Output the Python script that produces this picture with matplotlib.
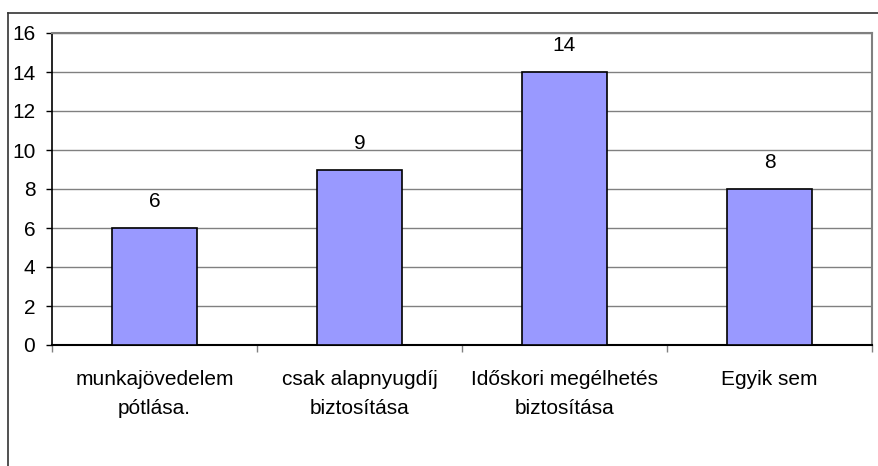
import matplotlib
matplotlib.use("Agg")
import matplotlib.pyplot as plt
from matplotlib.lines import Line2D
import numpy as np

plt.rcParams['font.family'] = ['Liberation Sans', 'DejaVu Sans']

categories = ["munkajövedelem\npótlása.", "csak alapnyugdíj\nbiztosítása",
              "Időskori megélhetés\nbiztosítása", "Egyik sem"]
values = [6, 9, 14, 8]
yticks = [0, 2, 4, 6, 8, 10, 12, 14, 16]

FS = 15

fig = plt.figure(figsize=(8.79, 4.66), dpi=100)
ax = fig.add_axes([52/879, 1-345/466, (872-52)/879, (345-33)/466])

x = np.arange(len(categories))
ax.bar(x, values, width=0.41, color='#9999FF', edgecolor='black', linewidth=1.2, zorder=3)
for xi, v in zip(x, values):
    ax.annotate(str(v), (xi, v), xytext=(0, 19), textcoords='offset points',
                ha='center', va='center', fontsize=FS)

ax.set_xlim(-0.5, len(categories)-0.5)
ax.set_ylim(0, 16)
ax.set_yticks(yticks)
ax.set_yticklabels([str(t) for t in yticks], fontsize=FS)
ax.yaxis.grid(True, color='#808080', linewidth=1.0, zorder=0)
ax.tick_params(axis='y', length=4, width=1, pad=8, color='black')

ax.set_xticks(x)
ax.set_xticklabels(categories, fontsize=FS, linespacing=1.7)
ax.tick_params(axis='x', which='major', length=0, pad=18)
ax.set_xticks(np.arange(-0.5, len(categories), 1.0), minor=True)
ax.tick_params(axis='x', which='minor', length=5, width=1, color='#808080')

for s in ['top', 'right']:
    ax.spines[s].set_color('#808080')
    ax.spines[s].set_linewidth(1.5)
ax.spines['left'].set_color('black')
ax.spines['bottom'].set_color('black')
ax.spines['left'].set_linewidth(1.2)
ax.spines['bottom'].set_linewidth(1.5)

# outer chart border (partially visible)
fig.add_artist(Line2D([8/879, 1.0], [1-13/466, 1-13/466], color='#333333', linewidth=1.2, transform=fig.transFigure))
fig.add_artist(Line2D([8/879, 8/879], [0, 1-13/466], color='#333333', linewidth=1.2, transform=fig.transFigure))

fig.savefig("out.png", dpi=100)
